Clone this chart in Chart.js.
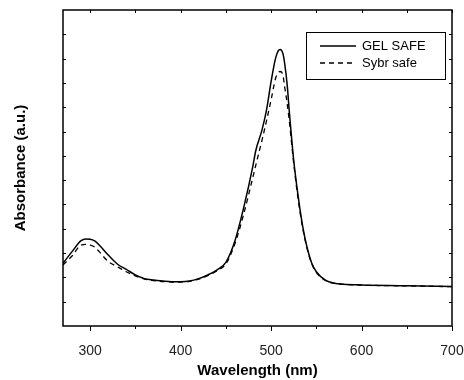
<!DOCTYPE html>
<html>
<head>
<meta charset="utf-8">
<script src="https://cdn.jsdelivr.net/npm/chart.js@4"></script>
<style>
  html, body { margin: 0; padding: 0; background: #fff; }
  #wrap { width: 464px; height: 380px; }
</style>
</head>
<body>
<div id="wrap"><canvas id="absChart" width="464" height="380"></canvas></div>
<script>
// Absorption spectra (y in arbitrary units)
var wavelengths = [270, 280, 290, 295, 300, 305, 310, 320, 330, 340, 350, 360, 370, 380, 390, 400, 410, 420, 430, 440, 450, 460, 470, 480, 483, 490, 495, 500, 505, 508, 510, 513, 515, 518, 520, 525, 530, 535, 540, 545, 550, 560, 570, 580, 600, 650, 700];
var gelSafe = [2.58, 3.06, 3.51, 3.58, 3.57, 3.5, 3.33, 2.92, 2.55, 2.33, 2.1, 1.95, 1.89, 1.85, 1.82, 1.82, 1.85, 1.95, 2.1, 2.3, 2.62, 3.5, 4.91, 6.6, 7.2, 8.07, 8.89, 10.05, 11.02, 11.33, 11.38, 11.22, 10.81, 9.85, 8.89, 6.83, 5.32, 4.09, 3.2, 2.58, 2.23, 1.89, 1.76, 1.72, 1.69, 1.66, 1.62];
var sybrSafe = [2.51, 2.88, 3.33, 3.36, 3.33, 3.25, 3.06, 2.65, 2.44, 2.23, 2.06, 1.93, 1.87, 1.83, 1.81, 1.81, 1.84, 1.93, 2.07, 2.27, 2.55, 3.38, 4.64, 6.14, 6.6, 7.65, 8.45, 9.3, 10.19, 10.42, 10.47, 10.33, 9.85, 9.1, 8.48, 6.7, 5.19, 4.02, 3.16, 2.56, 2.21, 1.87, 1.75, 1.71, 1.68, 1.65, 1.62];
var seriesNames = ["GEL SAFE", "Sybr safe"];
var xTickValues = [300, 400, 500, 600, 700];

function toPoints(xs, ys) {
    return xs.map(function (x, i) { return { x: x, y: ys[i] }; });
}

// frame, ticks and legend drawn like the original Origin plot
var framePlugin = {
    id: "frame",
    afterDraw: function (chart) {
        var ctx = chart.ctx;
        var a = chart.chartArea;
        var xs = chart.scales.x;
        var ys = chart.scales.y;
        ctx.save();
        ctx.strokeStyle = "#000";
        ctx.lineWidth = 1.5;
        ctx.strokeRect(a.left, a.top, a.right - a.left, a.bottom - a.top);

        ctx.lineWidth = 1;
        // x ticks every 50 nm: outward at bottom, inward at top
        for (var v = 300; v <= 700; v += 50) {
            var px = Math.round(xs.getPixelForValue(v)) + 0.5;
            var major = v % 100 === 0;
            ctx.beginPath();
            ctx.moveTo(px, a.bottom);
            ctx.lineTo(px, a.bottom + (major ? 5 : 3));
            ctx.moveTo(px, a.top);
            ctx.lineTo(px, a.top + 3);
            ctx.stroke();
        }
        // y ticks inward on both sides
        for (var t = 1; t < 13; t++) {
            var py = Math.round(ys.getPixelForValue(t)) + 0.5;
            ctx.beginPath();
            ctx.moveTo(a.left, py);
            ctx.lineTo(a.left + 3, py);
            ctx.moveTo(a.right, py);
            ctx.lineTo(a.right - 3, py);
            ctx.stroke();
        }

        // legend box
        var bx = 306, by = 32, bw = 139, bh = 47;
        ctx.fillStyle = "#fff";
        ctx.fillRect(bx, by, bw, bh);
        ctx.strokeRect(bx + 0.5, by + 0.5, bw, bh);
        ctx.font = "13px 'Liberation Sans', Arial, sans-serif";
        ctx.textBaseline = "middle";
        ctx.fillStyle = "#000";
        chart.data.datasets.forEach(function (ds, i) {
            var ly = by + 14 + i * 17;
            ctx.beginPath();
            ctx.lineWidth = 1.5;
            ctx.setLineDash(ds.borderDash || []);
            ctx.moveTo(bx + 14, ly);
            ctx.lineTo(bx + 50, ly);
            ctx.stroke();
            ctx.setLineDash([]);
            ctx.fillText(ds.label, bx + 56, ly);
        });
        ctx.restore();
    }
};

var chart = new Chart(document.getElementById("absChart"), {
    type: "line",
    data: {
        datasets: [
            {
                label: seriesNames[0],
                data: toPoints(wavelengths, gelSafe),
                borderColor: "#000",
                borderWidth: 1.5,
                pointRadius: 0,
                cubicInterpolationMode: "monotone",
                fill: false
            },
            {
                label: seriesNames[1],
                data: toPoints(wavelengths, sybrSafe),
                borderColor: "#000",
                borderWidth: 1.3,
                borderDash: [5, 4],
                pointRadius: 0,
                cubicInterpolationMode: "monotone",
                fill: false
            }
        ]
    },
    options: {
        responsive: false,
        animation: false,
        layout: { padding: { top: 10, right: 12, left: 0, bottom: 0 } },
        plugins: {
            legend: { display: false },
            tooltip: { enabled: false }
        },
        scales: {
            x: {
                type: "linear",
                min: 270,
                max: 700,
                afterBuildTicks: function (scale) {
                    scale.ticks = xTickValues.map(function (v) { return { value: v }; });
                },
                afterFit: function (scale) {
                    scale.height = 54;
                    // let the "700" label run to the canvas edge like the original
                    scale.paddingLeft = 0;
                    scale.paddingRight = 0;
                },
                grid: { display: false },
                border: { display: false },
                ticks: {
                    color: "#222",
                    padding: 9,
                    maxRotation: 0,
                    font: { family: "'Liberation Sans', Arial, sans-serif", size: 14 }
                },
                title: {
                    display: true,
                    text: "Wavelength (nm)",
                    color: "#000",
                    padding: { top: 4, bottom: 0 },
                    font: { family: "'Liberation Sans', Arial, sans-serif", size: 15, weight: "bold" }
                }
            },
            y: {
                min: 0,
                max: 13,
                afterFit: function (scale) { scale.width = 63; },
                grid: { display: false },
                border: { display: false },
                ticks: { display: false },
                title: {
                    display: true,
                    text: "Absorbance (a.u.)",
                    color: "#000",
                    padding: { top: 12, bottom: 0 },
                    font: { family: "'Liberation Sans', Arial, sans-serif", size: 15, weight: "bold" }
                }
            }
        }
    },
    plugins: [framePlugin]
});
</script>
</body>
</html>
